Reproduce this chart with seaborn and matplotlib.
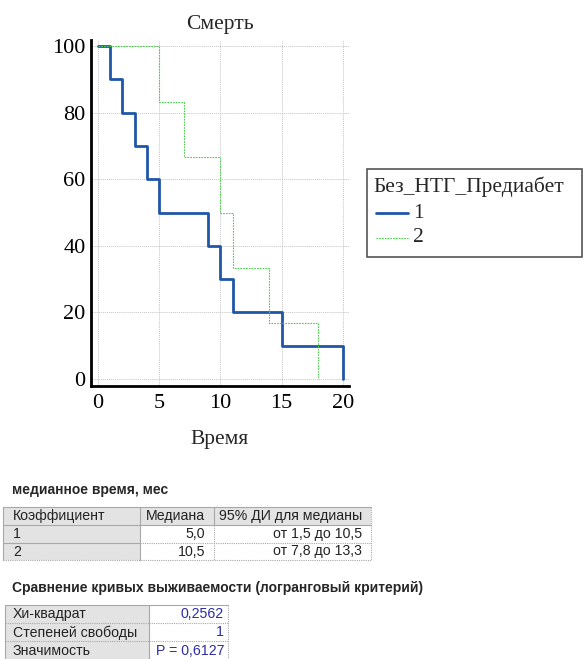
import numpy as np
import pandas as pd
import matplotlib
matplotlib.use("Agg")
import matplotlib.pyplot as plt
import matplotlib.patches as mpatches
from matplotlib.lines import Line2D
import seaborn as sns

# ---------------- data ----------------
title = "Смерть"
xlabel = "Время"
legend_title = "Без_НТГ_Предиабет"
groups = ["1", "2"]
time_g1 = [0, 1, 2, 3, 4, 5, 9, 10, 11, 15, 20]
surv_g1 = [100, 90, 80, 70, 60, 50, 40, 30, 20, 10, 0]
time_g2 = [0, 5, 7, 10, 11, 14, 18]
surv_g2 = [100, 83.33, 66.67, 50, 33.33, 16.67, 0]
xticks = [0, 5, 10, 15, 20]
yticks = [0, 20, 40, 60, 80, 100]

median_heading = "медианное время, мес"
median_header = ["Коэффициент", "Медиана", "95% ДИ для медианы"]
median_rows = [["1", "5,0", "от 1,5 до 10,5"],
               ["2", "10,5", "от 7,8 до 13,3"]]
logrank_heading = "Сравнение кривых выживаемости (логранговый критерий)"
logrank_labels = ["Хи-квадрат", "Степеней свободы", "Значимость"]
logrank_values = ["0,2562", "1", "P = 0,6127"]

# ---------------- figure ----------------
W, H = 584, 659
sns.set_style("white")
plt.rcParams["font.family"] = ["Liberation Serif", "DejaVu Serif"]
fig = plt.figure(figsize=(W / 100, H / 100), dpi=100)

def fx(px):
    return px / W

def fy(py):
    return 1 - py / H

blue = "#1f56a8"
green = "#4ccc4c"

ax_l, ax_r, ax_t, ax_b = 91, 349, 40, 386
ax = fig.add_axes([fx(ax_l), fy(ax_b), fx(ax_r - ax_l), (ax_b - ax_t) / H])

df = pd.concat([
    pd.DataFrame({"t": time_g1, "s": surv_g1, "g": groups[0]}),
    pd.DataFrame({"t": time_g2, "s": surv_g2, "g": groups[1]}),
])

sns.lineplot(data=df[df.g == "1"], x="t", y="s", color=blue, lw=2.0,
             drawstyle="steps-post", estimator=None, sort=False, ax=ax, legend=False)
sns.lineplot(data=df[df.g == "2"], x="t", y="s", color=green, lw=0.8,
             drawstyle="steps-post", estimator=None, sort=False, ax=ax, legend=False,
             dashes=False, linestyle=(0, (1.5, 1)))

ax.set_xlim(-0.57, 20.5)
ax.set_ylim(-2.1, 101.8)
ax.set_xticks(xticks)
ax.set_yticks(yticks)
ax.set_yticks([10, 30, 50, 70, 90], minor=True)
ax.grid(True, which="major", color="#c4c4c4", linestyle=(0, (1, 1)), linewidth=0.7)
ax.set_axisbelow(True)
for s in ["top", "right"]:
    ax.spines[s].set_visible(False)
for s in ["left", "bottom"]:
    ax.spines[s].set_color("black")
    ax.spines[s].set_linewidth(2)
ax.tick_params(axis="both", which="major", direction="in", length=4, width=1,
               labelsize=16, colors="black")
ax.tick_params(axis="x", which="major", pad=6)
ax.tick_params(axis="y", which="major", pad=4)
ax.tick_params(axis="y", which="minor", direction="in", length=3, width=1)
ax.set_xlabel(xlabel, fontsize=15.5, labelpad=12)
ax.set_ylabel("")
ax.set_title(title, fontsize=15.5, pad=8)

# legend box drawn manually
leg_l, leg_t, leg_r, leg_b = 367, 169, 582, 257
fig.patches.append(mpatches.Rectangle((fx(leg_l), fy(leg_b)), fx(leg_r - leg_l), (leg_b - leg_t) / H,
                                      transform=fig.transFigure, fill=False,
                                      edgecolor="#555555", linewidth=1.2))
lfs = 15.5
fig.text(fx(373), fy(187), legend_title, fontsize=lfs, va="center", ha="left")
fig.add_artist(Line2D([fx(376), fx(408)], [fy(213), fy(213)], color=blue, lw=2.0,
                      transform=fig.transFigure))
fig.add_artist(Line2D([fx(376), fx(408)], [fy(238), fy(238)], color=green, lw=0.8,
                      linestyle=(0, (1.5, 1)), transform=fig.transFigure))
fig.text(fx(413), fy(213), groups[0], fontsize=lfs, va="center", ha="left")
fig.text(fx(413), fy(238), groups[1], fontsize=lfs, va="center", ha="left")

# ---------------- tables ----------------
sans = ["Liberation Sans", "DejaVu Sans"]
gray = "#e3e3e3"
border = "#a8a8a8"
tfs = 10.2
txt = "#222222"

def rect(x0, y0, x1, y1, face):
    fig.patches.append(mpatches.Rectangle((fx(x0), fy(y1)), fx(x1 - x0), (y1 - y0) / H,
                                          transform=fig.transFigure, facecolor=face,
                                          edgecolor="none", zorder=1))

def hline(x0, x1, y, ls="-"):
    fig.add_artist(Line2D([fx(x0), fx(x1)], [fy(y), fy(y)], color=border, lw=0.8,
                          linestyle=ls, transform=fig.transFigure))

def vline(x, y0, y1, ls="-"):
    fig.add_artist(Line2D([fx(x), fx(x)], [fy(y0), fy(y1)], color=border, lw=0.8,
                          linestyle=ls, transform=fig.transFigure))

def cell_text(x, row_bottom, s, ha, color=txt):
    fig.text(fx(x), fy(row_bottom - 4.5), s, family=sans, fontsize=tfs,
             va="baseline", ha=ha, color=color)

# table 1
fig.text(fx(12), fy(494), median_heading, family=sans, fontsize=10, fontweight="bold",
         va="baseline", ha="left")
cols = [3, 140, 214, 371]
rows = [507, 524.5, 542.5, 560]
rect(cols[0], rows[0], cols[3], rows[1], gray)
rect(cols[0], rows[1], cols[1], rows[3], gray)
rect(cols[1], rows[1], cols[3], rows[3], "white")
hline(cols[0], cols[3], rows[0])
hline(cols[0], cols[3], rows[1])
hline(cols[0], cols[1], rows[2])
hline(cols[1], cols[3], rows[2], ls=(0, (1, 1)))
hline(cols[0], cols[3], rows[3], ls=(0, (1, 1)))
vline(cols[0], rows[0], rows[3])
vline(cols[1], rows[0], rows[3])
vline(cols[2], rows[0], rows[1])
vline(cols[2], rows[1], rows[3], ls=(0, (1, 1)))
vline(cols[3], rows[0], rows[3], ls=(0, (1, 1)))
cell_text(13, rows[1], median_header[0], "left")
cell_text(cols[2] - 9, rows[1], median_header[1], "right")
cell_text(cols[3] - 9, rows[1], median_header[2], "right")
for i, r in enumerate(median_rows):
    cell_text(13, rows[i + 2], r[0], "left")
    cell_text(cols[2] - 9, rows[i + 2], r[1], "right")
    cell_text(cols[3] - 9, rows[i + 2], r[2], "right")

# table 2
fig.text(fx(12), fy(592), logrank_heading, family=sans, fontsize=10, fontweight="bold",
         va="baseline", ha="left")
cols2 = [5, 149, 228]
rows2 = [604.5, 622.5, 641, 659.5]
rect(cols2[0], rows2[0], cols2[1], rows2[3], gray)
rect(cols2[1], rows2[0], cols2[2], rows2[3], "white")
hline(cols2[0], cols2[2], rows2[0])
hline(cols2[0], cols2[1], rows2[1], ls=(0, (1, 1)))
hline(cols2[0], cols2[1], rows2[2], ls=(0, (1, 1)))
hline(cols2[1], cols2[2], rows2[1], ls=(0, (1, 1)))
hline(cols2[1], cols2[2], rows2[2], ls=(0, (1, 1)))
vline(cols2[0], rows2[0], rows2[3])
vline(cols2[1], rows2[0], rows2[3])
vline(cols2[2], rows2[0], rows2[3], ls=(0, (1, 1)))
for i in range(3):
    cell_text(13, rows2[i + 1], logrank_labels[i], "left")
    cell_text(cols2[2] - 4, rows2[i + 1], logrank_values[i], "right", color="#2b2ba6")

fig.savefig("out.png", dpi=100, facecolor="white")
